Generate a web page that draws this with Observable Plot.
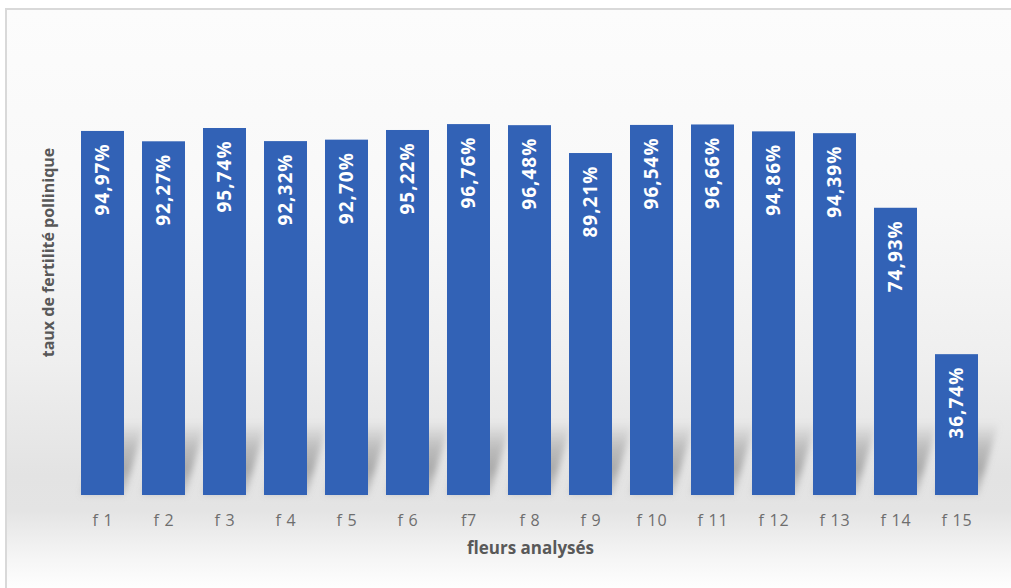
<!DOCTYPE html>
<html>
<head>
<meta charset="utf-8">
<script src="https://cdn.jsdelivr.net/npm/d3@7"></script>
<script src="https://cdn.jsdelivr.net/npm/@observablehq/plot@0.6"></script>
<style>
  html, body { margin: 0; padding: 0; background: #ffffff; }
  #frame {
    position: absolute; left: 5px; top: 8px; width: 1010px; height: 584px;
    box-sizing: border-box;
    border-left: 2px solid #d9d9d9; border-top: 2px solid #d9d9d9;
    background: linear-gradient(to bottom, #fcfcfc 0%, #f8f8f8 35%, #efefef 60%, #e3e3e3 80%, #e4e4e4 86%, #f5f5f5 94%, #ffffff 100%);
  }
  #chart { position: absolute; left: 0; top: 0; }
</style>
</head>
<body>
<div id="frame"></div>
<div id="chart"></div>
<script>
// Pollen fertility rate per analysed flower
const flowers = ["f 1", "f 2", "f 3", "f 4", "f 5", "f 6", "f7", "f 8", "f 9", "f 10", "f 11", "f 12", "f 13", "f 14", "f 15"];
const fertility = [94.97, 92.27, 95.74, 92.32, 92.70, 95.22, 96.76, 96.48, 89.21, 96.54, 96.66, 94.86, 94.39, 74.93, 36.74];
const valueLabels = fertility.map(v => v.toFixed(2).replace(".", ",") + "%");
const yTitle = "taux de fertilité pollinique";
const xTitle = "fleurs analysés";

const data = flowers.map((f, i) => ({flower: f, value: fertility[i], label: valueLabels[i]}));

// depth (in y units) of the soft perspective shadow at the foot of each bar
const shadowDepth = 19;
const shadowData = data.map(d => ({flower: d.flower, depth: shadowDepth}));
const barColor = "#3262b6";
const shadowColor = "#8a8a8b";

const chart = Plot.plot({
  width: 1011,
  height: 588,
  marginTop: 35,
  marginBottom: 93,
  marginLeft: 77,
  marginRight: 28,
  style: {background: "transparent", fontFamily: "'Open Sans', sans-serif", fontSize: "16px", color: "#6e6e6e"},
  x: {domain: flowers, paddingInner: 0.294, paddingOuter: 0, tickSize: 0, tickPadding: 19, label: null},
  y: {domain: [0, 120], axis: null},
  marks: [
    Plot.rectY(shadowData, {x: "flower", y1: 0, y2: "depth", fill: shadowColor}),
    Plot.barY(data, {x: "flower", y1: 0, y2: "value", fill: barColor}),
    Plot.text(data, {
      x: "flower", y: "value", text: "label", rotate: -90, textAnchor: "end", lineAnchor: "middle",
      dy: 12, fill: "white", fontWeight: "bold", fontSize: 19
    }),
    Plot.text([xTitle], {frameAnchor: "bottom", dy: 58, fontWeight: "bold", fontSize: 17, fill: "#595959"}),
    Plot.text([yTitle], {frameAnchor: "left", textAnchor: "middle", rotate: -90, dx: -29, dy: -13, fontWeight: "bold", fontSize: 16, fill: "#585858"})
  ]
});

// shadow gradient, blur, and the skew that throws it up and to the right
const svg = d3.select(chart);
const defs = svg.insert("defs", ":first-child");
const grad = defs.append("linearGradient").attr("id", "shadowFade").attr("x1", 0).attr("y1", 0).attr("x2", 0).attr("y2", 1);
grad.append("stop").attr("offset", "0%").attr("stop-color", "#8c8c8c").attr("stop-opacity", 0);
grad.append("stop").attr("offset", "35%").attr("stop-color", "#8c8c8c").attr("stop-opacity", 0.45);
grad.append("stop").attr("offset", "65%").attr("stop-color", "#8c8c8c").attr("stop-opacity", 0.65);
grad.append("stop").attr("offset", "100%").attr("stop-color", "#8c8c8c").attr("stop-opacity", 0.3);
defs.append("filter").attr("id", "shadowBlur")
  .attr("x", "-50%").attr("y", "-50%").attr("width", "200%").attr("height", "200%")
  .append("feGaussianBlur").attr("stdDeviation", 3.2);

const y0 = 588 - 93;
const k = Math.tan(16 * Math.PI / 180);
svg.selectAll(`[fill="${shadowColor}"] rect, rect[fill="${shadowColor}"]`).each(function() {
  const r = d3.select(this);
  const x = +r.attr("x"), y = +r.attr("y"), w = +r.attr("width"), h = +r.attr("height");
  const top = y, bottom = y + h;
  const shift = t => k * (y0 - t);
  const path = `M${x + shift(bottom)},${bottom}L${x + w + shift(bottom)},${bottom}L${x + w + shift(top)},${top}L${x + shift(top)},${top}Z`;
  d3.select(this.parentNode).insert("path", () => this)
    .attr("d", path)
    .attr("fill", "url(#shadowFade)")
    .attr("filter", "url(#shadowBlur)");
  r.remove();
});

// a little tracking on the labels
svg.selectAll("text").filter(function() { return this.getAttribute("fill") === "white" || (this.parentNode && this.parentNode.getAttribute("fill") === "white"); })
  .style("letter-spacing", "1px");
svg.selectAll("g").filter(function() { return this.getAttribute("aria-label") === "x-axis tick label"; })
  .selectAll("text").style("letter-spacing", "0.8px");

document.getElementById("chart").append(chart);
</script>
</body>
</html>
